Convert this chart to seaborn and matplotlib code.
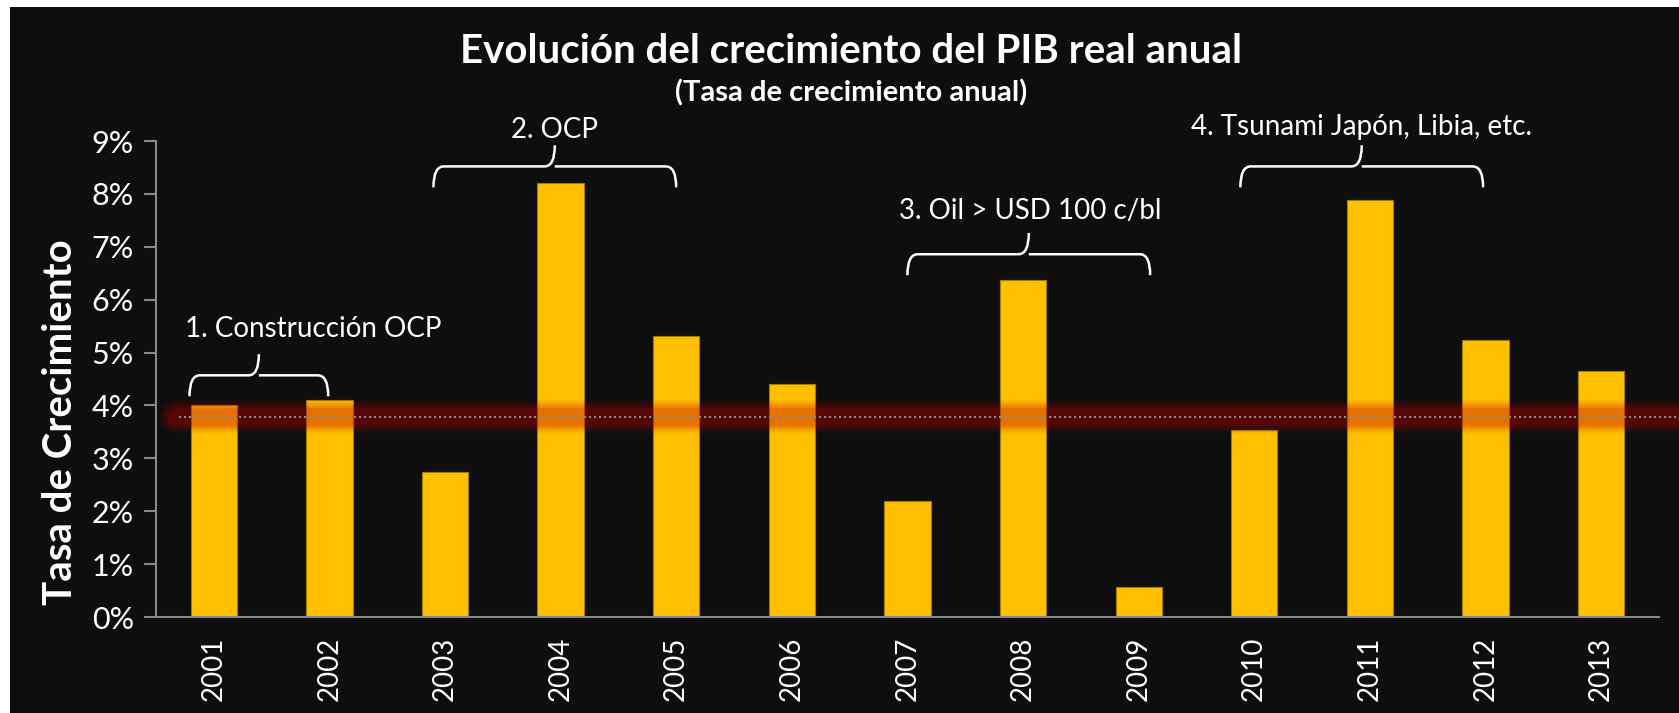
import numpy as np
import pandas as pd
import matplotlib
matplotlib.use("Agg")
import matplotlib.pyplot as plt
import seaborn as sns
from matplotlib.path import Path
from matplotlib.patches import PathPatch, Rectangle

# data
years = ["2001", "2002", "2003", "2004", "2005", "2006", "2007",
         "2008", "2009", "2010", "2011", "2012", "2013"]
growth = [4.01, 4.11, 2.75, 8.21, 5.32, 4.41, 2.20, 6.37, 0.57, 3.54, 7.89, 5.24, 4.66]
avg_growth = 3.79

# annotations: text, brace span (bar index units), brace level, text position
notes = ["1. Construcción OCP", "2. OCP", "3. Oil > USD 100 c/bl", "4. Tsunami Japón, Libia, etc."]
note_span = [(-0.21, 0.99), (1.90, 4.00), (6.00, 8.10), (8.88, 10.98)]
note_y = [4.57, 8.52, 6.86, 8.52]
note_tx = [0.86, 2.95, 7.06, 9.93]
note_ty = [5.45, 9.20, 7.68, 9.26]

df = pd.DataFrame({"year": years, "growth": growth})

sns.set_style("dark")
plt.rcParams["font.family"] = ["Lato", "DejaVu Sans"]

bg = "#0e0e0e"
fig = plt.figure(figsize=(16.79, 7.13), dpi=100, facecolor="white")
fig.patches.append(Rectangle((10 / 1679, 0), 1, 1 - 7 / 713, transform=fig.transFigure,
                             facecolor=bg, edgecolor="none", zorder=-10))
ax = fig.add_axes([0.0929, 0.1346, 0.8951, 0.6676])
ax.set_facecolor(bg)

sns.barplot(data=df, x="year", y="growth", color="#FFC000", width=0.4,
            edgecolor="#a07c00", linewidth=0.8, saturation=1, ax=ax)

ax.set_xlim(-0.5, len(years) - 0.5)
ax.set_ylim(0, 9)
ax.set_yticks(range(0, 10))
ax.set_yticklabels([f"{i}%" for i in range(0, 10)])
ax.set_xticks(np.arange(-0.5, len(years), 1), minor=True)
ax.tick_params(axis="x", which="major", length=0, pad=14, labelrotation=90,
               labelsize=20, labelcolor="white")
ax.tick_params(axis="x", which="minor", length=9, width=1.5, color="#888888", direction="out")
ax.tick_params(axis="y", length=9, width=1.5, color="#888888", direction="out",
               labelsize=22, labelcolor="white", pad=7, left=True)
for side in ["top", "right"]:
    ax.spines[side].set_visible(False)
for side in ["left", "bottom"]:
    ax.spines[side].set_visible(True)
    ax.spines[side].set_color("#888888")
    ax.spines[side].set_linewidth(1.5)
ax.grid(False)
ax.set_xlabel("")
ax.set_ylabel("Tasa de Crecimiento", fontsize=29, fontweight="bold", color="white")
ax.yaxis.set_label_coords(-0.051, 0.41)

# glowing average line
x0, x1 = -0.33, 12.75
for w, a in [(34, 0.05), (30, 0.07), (26, 0.09), (22, 0.12), (18, 0.15)]:
    ax.plot([x0, x1], [avg_growth, avg_growth], color="#c30000", lw=w * 0.72, alpha=a,
            solid_capstyle="round", clip_on=False, zorder=4)
ax.plot([-0.30, x1], [avg_growth, avg_growth], color="#8a8a8a", lw=1.5,
        linestyle=(0, (1, 1.4)), clip_on=False, zorder=5)


def brace(ax, xa, xb, y, dx=0.09, dy=0.18, tip=0.4):
    xc = (xa + xb) / 2
    verts = [(xa, y - dy * 2.2), (xa, y), (xa + dx, y),
             (xc - dx, y), (xc, y), (xc, y + tip),
             (xc, y), (xc + dx, y),
             (xb - dx, y), (xb, y), (xb, y - dy * 2.2)]
    codes = [Path.MOVETO, Path.CURVE3, Path.CURVE3,
             Path.LINETO, Path.CURVE3, Path.CURVE3,
             Path.MOVETO, Path.LINETO,
             Path.LINETO, Path.CURVE3, Path.CURVE3]
    ax.add_patch(PathPatch(Path(verts, codes), facecolor="none", edgecolor="white",
                           lw=1.8, clip_on=False, zorder=6))


for txt, (xa, xb), y, tx, ty in zip(notes, note_span, note_y, note_tx, note_ty):
    brace(ax, xa, xb, y)
    ax.text(tx, ty, txt, ha="center", va="center", color="white",
            fontsize=20, clip_on=False, zorder=6)

fig.text(0.507, 0.928, "Evolución del crecimiento del PIB real anual", ha="center", va="center",
         color="white", fontsize=29, fontweight="bold")
fig.text(0.507, 0.870, "(Tasa de crecimiento anual)", ha="center", va="center",
         color="white", fontsize=21, fontweight="bold")

plt.savefig("out.png", dpi=100, facecolor=fig.get_facecolor())
